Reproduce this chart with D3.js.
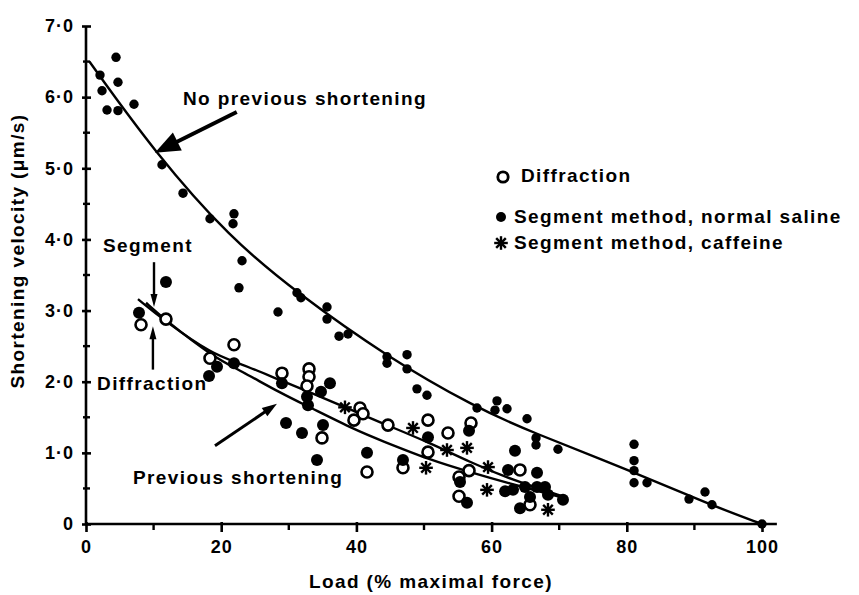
<!DOCTYPE html>
<html lang="en">
<head>
<meta charset="UTF-8" />
<title>Load - shortening velocity</title>
<script src="https://d3js.org/d3.v7.min.js"></script>
<style>
  body { margin: 0; background: #fff; }
  svg { display: block; background: #fff; }
  text { font-family: "Liberation Sans", Arial, sans-serif; font-weight: bold; fill: #000; }
  .lbl { font-size: 19px; letter-spacing: 1.4px; }
  .tick text { font-size: 18px; letter-spacing: 1px; }
  .curve { fill: none; stroke: #000; stroke-width: 2.4; }
  .axis-line { stroke: #000; stroke-width: 2.6; }
</style>
</head>
<body>
<svg id="chart" width="859" height="595"></svg>
<script>
// ---- data (load in % maximal force, velocity in um/s) ----
const xTicks = [0, 20, 40, 60, 80, 100];
const xMinor = [10, 30, 50, 70, 90];
const yTicks = [0, 1, 2, 3, 4, 5, 6, 7];
const yTickLabels = ["0", "1·0", "2·0", "3·0", "4·0", "5·0", "6·0", "7·0"];
const yMinor = [0.5, 1.5, 2.5, 3.5, 4.5, 5.5, 6.5];

// no previous shortening, segment method (small dots)
const noPrevDots = [
  [2.07, 6.31], [2.37, 6.09], [3.11, 5.82], [4.44, 6.56], [4.73, 6.21], [4.73, 5.81],
  [7.10, 5.90], [11.24, 5.05], [14.35, 4.65], [18.34, 4.29], [21.89, 4.36], [21.75, 4.22],
  [23.08, 3.70], [22.63, 3.32], [28.40, 2.98], [31.21, 3.25], [31.80, 3.18], [35.65, 3.05],
  [35.65, 2.88], [37.43, 2.64], [38.76, 2.67], [44.53, 2.35], [44.53, 2.26], [47.49, 2.38],
  [47.49, 2.18], [48.96, 1.90], [50.44, 1.81], [57.84, 1.63], [60.80, 1.73], [60.50, 1.60],
  [62.28, 1.62], [65.24, 1.48], [66.57, 1.21], [66.57, 1.11], [69.82, 1.05], [81.07, 1.12],
  [81.07, 0.89], [81.07, 0.75], [81.07, 0.58], [82.99, 0.58], [89.20, 0.35], [91.57, 0.45],
  [92.60, 0.27], [100, 0]
];

// previous shortening, segment method normal saline (filled)
const segmentDots = [
  [11.83, 3.40], [7.84, 2.97], [19.38, 2.21], [18.20, 2.08], [21.89, 2.26], [28.99, 1.98],
  [29.59, 1.42], [31.95, 1.28], [35.06, 1.39], [36.09, 1.98], [34.76, 1.86], [32.69, 1.79],
  [32.84, 1.67], [34.17, 0.90], [50.59, 1.22], [41.57, 1.00], [46.89, 0.90], [56.66, 1.31],
  [55.33, 0.59], [56.36, 0.30], [63.46, 1.03], [62.43, 0.76], [66.72, 0.72], [63.17, 0.48],
  [64.94, 0.52], [66.72, 0.52], [67.90, 0.52], [65.68, 0.38], [64.20, 0.22], [70.56, 0.34],
  [68.34, 0.41], [62.0, 0.46]
];

// previous shortening, diffraction (open)
const diffractionDots = [
  [8.14, 2.80], [11.83, 2.88], [21.89, 2.52], [18.34, 2.33], [28.99, 2.12], [32.99, 2.18],
  [32.99, 2.07], [32.69, 1.94], [40.53, 1.63], [40.98, 1.55], [39.64, 1.46], [34.91, 1.21],
  [44.67, 1.39], [50.59, 1.46], [50.59, 1.01], [41.57, 0.73], [46.89, 0.79], [53.55, 1.28],
  [56.95, 1.42], [56.66, 0.75], [55.18, 0.66], [55.18, 0.39], [64.20, 0.76], [65.68, 0.27]
];

// previous shortening, segment method caffeine (asterisks)
const caffeineDots = [
  [38.31, 1.64], [48.37, 1.35], [50.30, 0.79], [53.40, 1.04], [56.36, 1.07], [59.47, 0.80],
  [59.32, 0.48], [68.34, 0.20]
];

// fitted curves
const curveNoPrev = [
  [0.5, 6.5], [10.2, 5.22], [21.3, 4.02], [31.2, 3.25], [44.5, 2.35], [57.8, 1.63],
  [65.7, 1.30], [80.3, 0.76], [92.3, 0.27], [100, 0]
];
const curvePrevA = [
  [7.69, 3.16], [11.69, 2.85], [18.79, 2.38], [22.78, 2.26], [28.99, 2.01], [32.69, 1.87],
  [40.09, 1.57], [43.49, 1.43], [50.89, 1.14], [56.80, 0.87], [62.72, 0.63], [71.15, 0.37]
];
const curvePrevB = [
  [8.88, 3.11], [11.69, 2.87], [18.79, 2.35], [22.78, 2.16], [28.99, 1.83], [32.69, 1.66],
  [40.09, 1.31], [43.49, 1.18], [50.89, 0.90], [56.80, 0.73], [62.28, 0.58], [70.12, 0.38]
];

// ---- layout ----
const svg = d3.select("#chart");
const x = d3.scaleLinear().domain([0, 100]).range([86, 762]);
const y = d3.scaleLinear().domain([0, 7]).range([524, 26]);

// axes
const xAxis = d3.axisBottom(x).tickValues(xTicks).tickSize(8).tickPadding(6);
const gx = svg.append("g").attr("transform", `translate(0,${y(0)})`).call(xAxis);
gx.select(".domain").remove();
gx.selectAll(".tick line").attr("stroke-width", 2.6).attr("y1", -2);
gx.selectAll(".tick text").attr("dy", "0.85em");
gx.selectAll(".minor").data(xMinor).join("line")
  .attr("x1", d => x(d)).attr("x2", d => x(d)).attr("y1", -1).attr("y2", 6)
  .attr("stroke", "#000").attr("stroke-width", 2.4);

const yAxis = d3.axisLeft(y).tickValues(yTicks).tickFormat((d, i) => yTickLabels[i]).tickSize(4).tickPadding(8);
const gy = svg.append("g").attr("transform", `translate(${x(0)},0)`).call(yAxis);
gy.select(".domain").remove();
gy.selectAll(".tick line").attr("stroke-width", 2.6).attr("x1", 5);
gy.selectAll(".minor").data(yMinor).join("line")
  .attr("y1", d => y(d)).attr("y2", d => y(d)).attr("x1", -3).attr("x2", 4)
  .attr("stroke", "#000").attr("stroke-width", 2.4);

svg.append("line").attr("class", "axis-line")
  .attr("x1", x(0)).attr("x2", x(0)).attr("y1", y(7)).attr("y2", y(0) + 1);
svg.append("line").attr("class", "axis-line")
  .attr("x1", x(0) - 1).attr("x2", x(102.2)).attr("y1", y(0)).attr("y2", y(0));

svg.append("text").attr("class", "lbl").attr("x", 431).attr("y", 588).attr("text-anchor", "middle")
  .text("Load (% maximal force)");
svg.append("text").attr("class", "lbl").attr("transform", "translate(24,251) rotate(-90)")
  .attr("text-anchor", "middle").text("Shortening velocity (μm/s)");

// curves
const line = d3.line().x(d => x(d[0])).y(d => y(d[1])).curve(d3.curveBasis);
[curveNoPrev, curvePrevA, curvePrevB].forEach(c => {
  svg.append("path").attr("class", "curve").attr("d", line(c));
});

// points
svg.append("g").selectAll("circle").data(noPrevDots).join("circle")
  .attr("cx", d => x(d[0])).attr("cy", d => y(d[1])).attr("r", 4.7).attr("fill", "#000");
svg.append("g").selectAll("circle").data(diffractionDots).join("circle")
  .attr("cx", d => x(d[0])).attr("cy", d => y(d[1])).attr("r", 5.5)
  .attr("fill", "#fff").attr("stroke", "#000").attr("stroke-width", 2.6);
svg.append("g").selectAll("circle").data(segmentDots).join("circle")
  .attr("cx", d => x(d[0])).attr("cy", d => y(d[1])).attr("r", 6).attr("fill", "#000");

function asterisk(g, cx, cy, r) {
  for (let k = 0; k < 4; k++) {
    const a = k * Math.PI / 4;
    g.append("line")
      .attr("x1", cx - r * Math.sin(a)).attr("y1", cy - r * Math.cos(a))
      .attr("x2", cx + r * Math.sin(a)).attr("y2", cy + r * Math.cos(a))
      .attr("stroke", "#000").attr("stroke-width", 2.4);
  }
}
const gAst = svg.append("g");
caffeineDots.forEach(d => asterisk(gAst, x(d[0]), y(d[1]), 6.8));

// annotations (data coordinates)
function arrow(from, to, headLen, headHalf, width) {
  const x1 = x(from[0]), y1 = y(from[1]), x2 = x(to[0]), y2 = y(to[1]);
  const dx = x2 - x1, dy = y2 - y1, L = Math.hypot(dx, dy);
  const ux = dx / L, uy = dy / L;
  const bx = x2 - ux * headLen, by = y2 - uy * headLen;
  svg.append("line").attr("x1", x1).attr("y1", y1).attr("x2", bx + ux * 2).attr("y2", by + uy * 2)
    .attr("stroke", "#000").attr("stroke-width", width);
  svg.append("polygon")
    .attr("points", [[x2, y2], [bx - uy * headHalf, by + ux * headHalf], [bx + uy * headHalf, by - ux * headHalf]].join(" "))
    .attr("fill", "#000");
}
arrow([22.3, 5.79], [10.2, 5.22], 25, 10, 4);
arrow([10.06, 3.68], [10.06, 3.05], 13, 3.5, 2.4);
arrow([9.9, 2.17], [9.9, 2.78], 13, 3.5, 2.4);
arrow([19.08, 1.10], [28.25, 1.69], 15, 5, 3);

const labels = [
  { text: "No previous shortening", at: [14.35, 5.89] },
  { text: "Segment", at: [2.5, 3.82] },
  { text: "Diffraction", at: [1.63, 1.88] },
  { text: "Previous shortening", at: [6.95, 0.56] }
];
svg.append("g").selectAll("text").data(labels).join("text").attr("class", "lbl")
  .attr("x", d => x(d.at[0])).attr("y", d => y(d.at[1])).text(d => d.text);

// legend
const lg = svg.append("g");
lg.append("circle").attr("cx", 503).attr("cy", 177).attr("r", 5.2).attr("fill", "#fff")
  .attr("stroke", "#000").attr("stroke-width", 2.8);
lg.append("text").attr("class", "lbl").attr("x", 521).attr("y", 182).text("Diffraction");
lg.append("circle").attr("cx", 501).attr("cy", 217).attr("r", 5).attr("fill", "#000");
lg.append("text").attr("class", "lbl").attr("x", 514).attr("y", 223).text("Segment method, normal saline");
asterisk(lg, 501, 243, 6.8);
lg.append("text").attr("class", "lbl").attr("x", 514).attr("y", 249).text("Segment method, caffeine");
</script>
</body>
</html>
